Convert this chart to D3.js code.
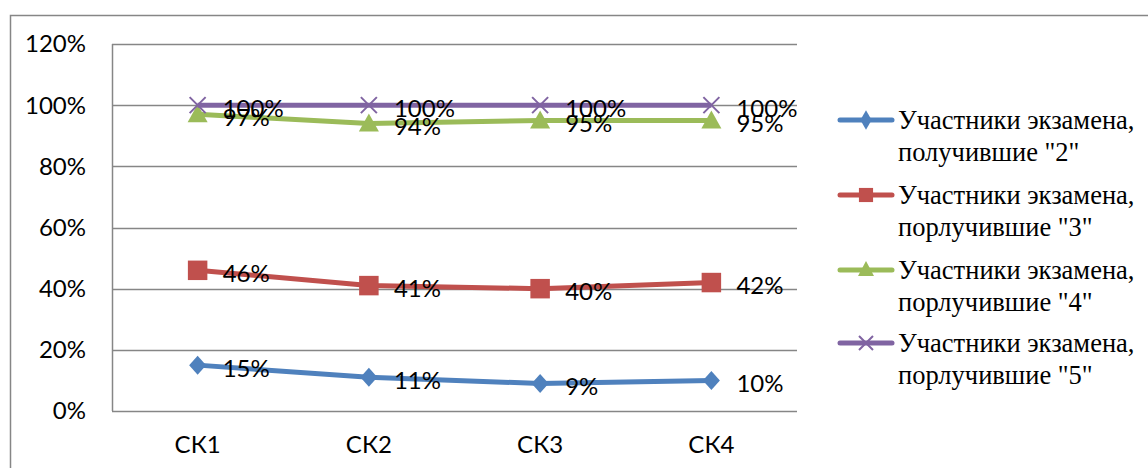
<!DOCTYPE html>
<html><head><meta charset="utf-8">
<script src="https://cdn.jsdelivr.net/npm/d3@7"></script>
<style>html,body{margin:0;padding:0;background:#fff;overflow:hidden}</style>
</head><body>
<svg id="c" width="1148" height="468"></svg>
<script>
const categories = ["СК1", "СК2", "СК3", "СК4"];
const seriesNames = [
  ["Участники экзамена,", "получившие \"2\""],
  ["Участники экзамена,", "порлучившие \"3\""],
  ["Участники экзамена,", "порлучившие \"4\""],
  ["Участники экзамена,", "порлучившие \"5\""]
];
const grade2 = [15, 11, 9, 10];
const grade3 = [46, 41, 40, 42];
const grade4 = [97, 94, 95, 95];
const grade5 = [100, 100, 100, 100];
const yTicks = [0, 20, 40, 60, 80, 100, 120];
const colors = ["#4F81BD", "#C0504D", "#9BBB59", "#8064A2"];
const markers = ["diamond", "square", "triangle", "x"];
const allSeries = [grade2, grade3, grade4, grade5];

const svg = d3.select("#c");
// outer chart border
svg.append("path").attr("d", "M10.5,468 V15.5 H1148")
  .attr("fill", "none").attr("stroke", "#868686").attr("stroke-width", 1.5);

const x = d3.scaleBand().domain(categories).range([112, 797]);
const y = d3.scaleLinear().domain([0, 120]).range([411, 44]);

// gridlines
svg.append("g").selectAll("line").data(yTicks).join("line")
  .attr("x1", 112).attr("x2", 797)
  .attr("y1", d => Math.round(y(d)) + 0.5).attr("y2", d => Math.round(y(d)) + 0.5)
  .attr("stroke", "#868686").attr("stroke-width", 1.5);
// y axis line
svg.append("line").attr("x1", 112.5).attr("x2", 112.5).attr("y1", y(120)).attr("y2", y(0))
  .attr("stroke", "#868686").attr("stroke-width", 1.5);

const font = "Lato, 'Open Sans', sans-serif";
const fs = 24;
// y tick labels
svg.append("g").selectAll("text").data(yTicks).join("text")
  .attr("x", 86).attr("y", d => y(d)).attr("dy", "0.35em")
  .attr("text-anchor", "end").attr("font-family", font).attr("font-size", fs).attr("fill", "#000")
  .text(d => d + "%");
// x labels
svg.append("g").selectAll("text").data(categories).join("text")
  .attr("x", d => x(d) + x.bandwidth() / 2).attr("y", 445).attr("dy", "0.35em")
  .attr("text-anchor", "middle").attr("font-family", font).attr("font-size", fs).attr("fill", "#000")
  .text(d => d);

function markerPath(type) {
  if (type === "diamond") return "M0,-9.5 L8.5,0 L0,9.5 L-8.5,0 Z";
  if (type === "square") return d3.symbol(d3.symbolSquare, 380)();
  if (type === "triangle") return "M0,-10 L10,8 L-10,8 Z";
  return "M-8,-8 L8,8 M-8,8 L8,-8";
}
function drawMarker(g, type, color) {
  const p = g.append("path").attr("d", markerPath(type));
  if (type === "x") p.attr("fill", "none").attr("stroke", color).attr("stroke-width", 2);
  else p.attr("fill", color);
}

const line = d3.line().x((d, i) => x(categories[i]) + x.bandwidth() / 2).y(d => y(d));
const order = [0, 1, 2, 3];
order.forEach(si => {
  const vals = allSeries[si];
  svg.append("path").datum(vals).attr("d", line).attr("fill", "none")
    .attr("stroke", colors[si]).attr("stroke-width", 5).attr("stroke-linejoin", "round");
  vals.forEach((v, i) => {
    const g = svg.append("g").attr("transform", `translate(${x(categories[i]) + x.bandwidth() / 2},${y(v)})`);
    drawMarker(g, markers[si], colors[si]);
  });
});
// data labels
order.forEach(si => {
  allSeries[si].forEach((v, i) => {
    svg.append("text").attr("x", x(categories[i]) + x.bandwidth() / 2 + 25).attr("y", y(v) + 3)
      .attr("dy", "0.35em").attr("font-family", font).attr("font-size", fs).attr("fill", "#000")
      .text(v + "%");
  });
});

// legend
const legY = [120, 195, 270, 343];
seriesNames.forEach((nm, si) => {
  const g = svg.append("g").attr("transform", `translate(0,${legY[si]})`);
  g.append("line").attr("x1", 840).attr("x2", 892).attr("y1", 0).attr("y2", 0)
    .attr("stroke", colors[si]).attr("stroke-width", 5).attr("stroke-linecap", "round");
  const m = g.append("g").attr("transform", "translate(866,0)");
  if (markers[si] === "x") m.append("path").attr("d", "M-7,-7 L7,7 M-7,7 L7,-7").attr("stroke", colors[si]).attr("stroke-width", 2).attr("fill", "none");
  else if (markers[si] === "diamond") m.append("path").attr("d", d3.symbol(d3.symbolDiamond, 110)()).attr("fill", colors[si]);
  else if (markers[si] === "square") m.append("path").attr("d", d3.symbol(d3.symbolSquare, 200)()).attr("fill", colors[si]);
  else m.append("path").attr("d", "M0,-9 L8,6 L-8,6 Z").attr("fill", colors[si]);
  nm.forEach((t, li) => {
    g.append("text").attr("x", 898).attr("y", li * 32).attr("dy", "0.35em")
      .attr("font-family", "'Liberation Serif', 'Times New Roman', serif").attr("font-size", 26.5).attr("fill", "#000")
      .text(t);
  });
});
</script>
</body></html>
